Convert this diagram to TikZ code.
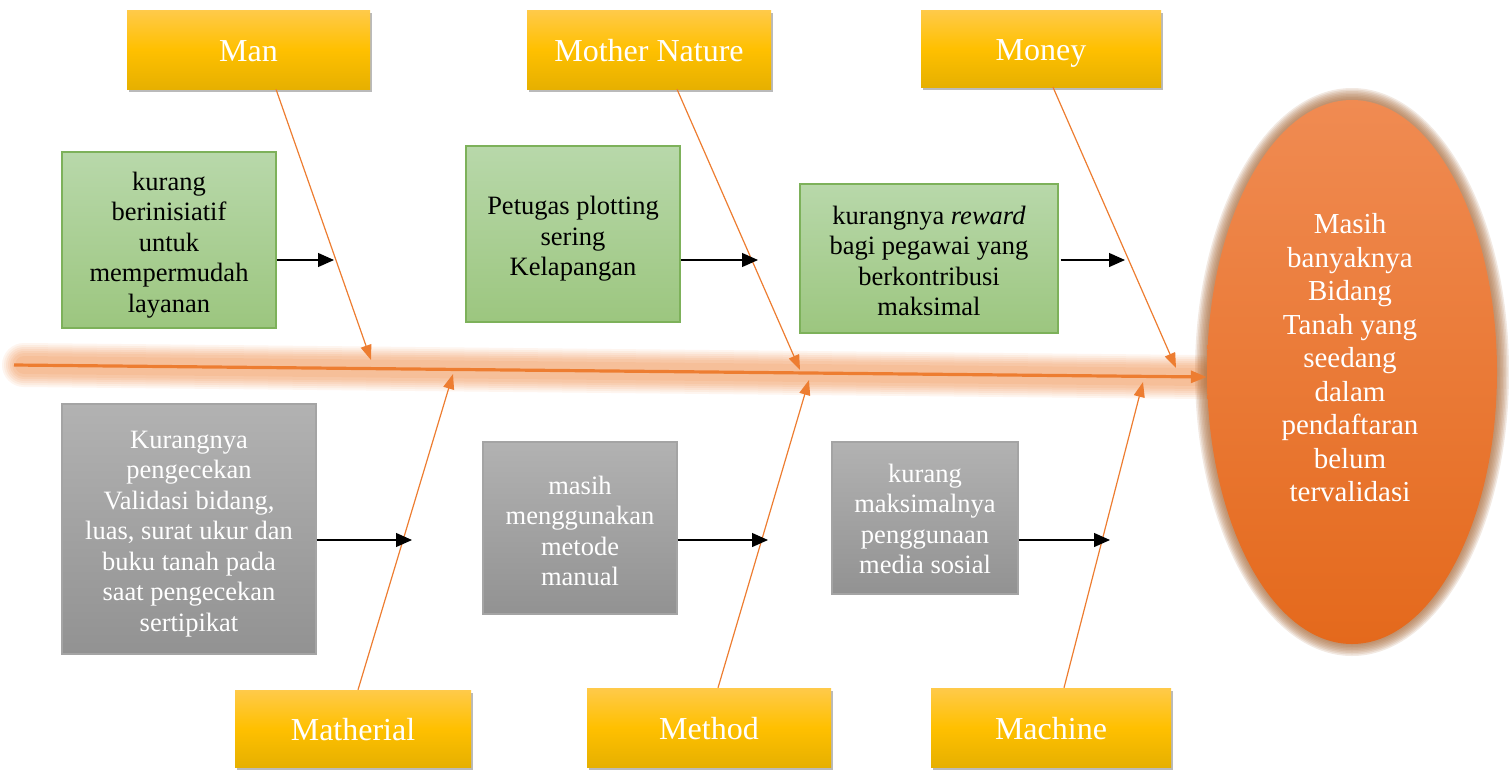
\documentclass[tikz,border=0pt]{standalone}
\usepackage{fontspec}
\setmainfont{Liberation Serif}
\usetikzlibrary{shadows,arrows.meta,calc,shapes.geometric}
\definecolor{bone}{HTML}{ED7D31}
\definecolor{ytop}{HTML}{FFCA4A}
\definecolor{ymid}{HTML}{FFC000}
\definecolor{ybot}{HTML}{E6B000}
\definecolor{gtop}{HTML}{B8D8AA}
\definecolor{gbot}{HTML}{9CC67F}
\definecolor{gline}{HTML}{7DB15A}
\definecolor{rtop}{HTML}{B2B2B2}
\definecolor{rbot}{HTML}{929292}
\definecolor{rline}{HTML}{A4A4A4}
\definecolor{etop}{HTML}{F08B52}
\definecolor{ebot}{HTML}{E4691C}
\definecolor{eglow}{HTML}{A86A3A}
\tikzset{
  cat/.style={rectangle, top color=ytop, bottom color=ybot, middle color=ymid,
    text=white, font=\fontsize{32}{36}\selectfont, text height=29pt, text depth=6pt,
    drop shadow={opacity=0.45, shadow xshift=2pt, shadow yshift=-3pt, fill=black!60}},
  greenbox/.style={rectangle, draw=gline, line width=1.3pt, top color=gtop, bottom color=gbot},
  graybox/.style={rectangle, draw=rline, line width=1.3pt, top color=rtop, bottom color=rbot},
  greentext/.style={text=black, align=center, font=\fontsize{26.5}{30.5}\selectfont},
  graytext/.style={text=white, align=center, font=\fontsize{26.5}{30.5}\selectfont},
  bonearrow/.style={draw=bone, line width=1.2pt, -{Triangle[length=15pt,width=11pt]}},
  causearrow/.style={draw=black, line width=1.2pt, -{Triangle[length=16pt,width=14pt]}},
}
\begin{document}
\begin{tikzpicture}[x=1pt,y=-1pt]
\useasboundingbox (0,0) rectangle (1509,769);
% spine glow
\foreach \w/\o in {44/0.08,40/0.08,36/0.09,32/0.09,28/0.10,24/0.10,18/0.11}{
  \draw[bone, line width=\w pt, opacity=\o, line cap=round] (24,365) -- (1200,377);
}
% effect ellipse glow
\foreach \r in {12,10.5,9,7.5,6,4.5,3,1.5}{
  \fill[eglow, opacity=0.15] (1352,372) ellipse ({145+\r} and {272+\r});
}
\node[ellipse, minimum width=290pt, minimum height=544pt, inner sep=0pt,
      top color=etop, bottom color=ebot] (effect) at (1352,372) {};
\node[text=white, align=center, font=\fontsize{29}{33.5}\selectfont] (efftext) at (1350,358)
  {Masih\\banyaknya\\Bidang\\Tanah yang\\seedang\\dalam\\pendaftaran\\belum\\tervalidasi};
% spine
\coordinate (tail) at (14,365);
\draw[bone, line width=3.2pt, -{Triangle[length=16pt,width=12pt]}] (tail) -- (effect.west |- 0,377);
% categories
\node[cat, minimum width=243pt, minimum height=79pt] (man) at (248.5,49.5) {Man};
\node[cat, minimum width=244pt, minimum height=79pt] (nature) at (649,49.5) {Mother Nature};
\node[cat, minimum width=240pt, minimum height=77pt] (money) at (1041,48.5) {Money};
\node[cat, minimum width=236pt, minimum height=77pt] (mat) at (353,728.5) {Matherial};
\node[cat, minimum width=244pt, minimum height=79pt] (meth) at (709,727.5) {Method};
\node[cat, minimum width=240pt, minimum height=79pt] (mach) at (1051,727.5) {Machine};
% bone ends on the spine
\coordinate (hMan) at (371,360);
\coordinate (hNat) at (800,370);
\coordinate (hMon) at (1176,368);
\coordinate (hMat) at (453,374);
\coordinate (hMeth) at (809,380);
\coordinate (hMach) at (1143,382);
\draw[bonearrow] ($(man.south)+(27.5,0)$) -- (hMan);
\draw[bonearrow] ($(nature.south)+(28,0)$) -- (hNat);
\draw[bonearrow] ($(money.south)+(12,0)$) -- (hMon);
\draw[bonearrow] ($(mat.north)+(5,0)$) -- (hMat);
\draw[bonearrow] ($(meth.north)+(9,0)$) -- (hMeth);
\draw[bonearrow] ($(mach.north)+(13,0)$) -- (hMach);
% causes
\node[greenbox, minimum width=214pt, minimum height=176pt] (c1) at (169,240) {};
\node[greentext] (c1t) at ($(c1)+(0,5)$) {kurang\\berinisiatif\\untuk\\mempermudah\\layanan};
\node[greenbox, minimum width=214pt, minimum height=176pt] (c2) at (573,234) {};
\node[greentext] (c2t) at ($(c2)+(0,5)$) {Petugas plotting\\sering\\Kelapangan};
\node[greenbox, minimum width=258pt, minimum height=149pt] (c3) at (929,258.5) {};
\node[greentext] (c3t) at ($(c3)+(0,2.5)$) {kurangnya \textit{reward}\\bagi pegawai yang\\berkontribusi\\maksimal};
\node[graybox, minimum width=254pt, minimum height=250pt] (c4) at (189,529) {};
\node[graytext] (c4t) at ($(c4)+(0,5)$) {Kurangnya\\pengecekan\\Validasi bidang,\\luas, surat ukur dan\\buku tanah pada\\saat pengecekan\\sertipikat};
\node[graybox, minimum width=194pt, minimum height=172pt] (c5) at (580,528) {};
\node[graytext] (c5t) at ($(c5)+(0,3)$) {masih\\menggunakan\\metode\\manual};
\node[graybox, minimum width=186pt, minimum height=152pt] (c6) at (925,518) {};
\node[graytext] (c6t) at ($(c6)+(0,1)$) {kurang\\maksimalnya\\penggunaan\\media sosial};
\coordinate (a1) at (334,260);
\coordinate (a2) at (758,260);
\coordinate (a3) at (1125,260);
\coordinate (a4) at (412,540);
\coordinate (a5) at (768,540);
\coordinate (a6) at (1110,540);
\draw[causearrow] (c1.east |- a1) -- (a1);
\draw[causearrow] (c2.east |- a2) -- (a2);
\draw[causearrow] (c3.east |- a3) ++(2,0) -- (a3);
\draw[causearrow] (c4.east |- a4) -- (a4);
\draw[causearrow] (c5.east |- a5) -- (a5);
\draw[causearrow] (c6.east |- a6) -- (a6);
\end{tikzpicture}
\end{document}
